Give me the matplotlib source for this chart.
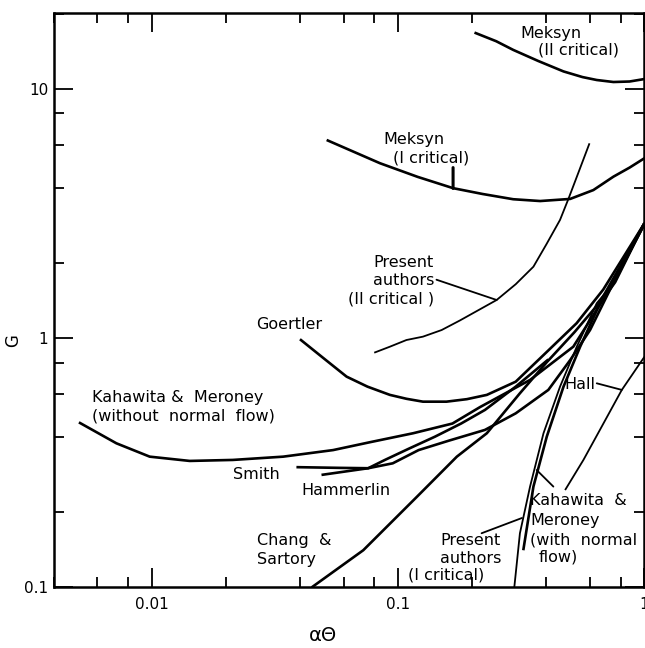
import matplotlib
matplotlib.use("Agg")
import matplotlib.pyplot as plt
from matplotlib.ticker import LogLocator, NullFormatter, FixedLocator, FixedFormatter

# curves: alpha*theta (x) against G
meksyn2_x = [0.204, 0.25, 0.293, 0.37, 0.469, 0.56, 0.640, 0.748, 0.87, 1.0]
meksyn2_g = [16.9, 15.6, 14.4, 13.0, 11.8, 11.2, 10.9, 10.7, 10.75, 11.0]

meksyn1_x = [0.0512, 0.0843, 0.12, 0.167, 0.22, 0.293, 0.377, 0.499, 0.62, 0.748, 0.87, 1.0]
meksyn1_g = [6.26, 5.05, 4.45, 4.01, 3.80, 3.62, 3.56, 3.63, 3.94, 4.46, 4.85, 5.29]

present2_x = [0.0799, 0.0925, 0.108, 0.126, 0.15, 0.178, 0.251, 0.30, 0.354, 0.40, 0.454, 0.491, 0.54, 0.598]
present2_g = [0.876, 0.926, 0.985, 1.016, 1.08, 1.18, 1.426, 1.65, 1.94, 2.39, 2.99, 3.63, 4.65, 6.07]

goertler_x = [0.0399, 0.05, 0.0617, 0.075, 0.0925, 0.108, 0.126, 0.157, 0.19, 0.229, 0.30, 0.40, 0.53,
              0.68, 1.0]
goertler_g = [0.992, 0.829, 0.702, 0.64, 0.593, 0.572, 0.557, 0.557, 0.57, 0.593, 0.67, 0.88, 1.15,
              1.57, 2.9]

km_noflow_x = [0.00505, 0.00717, 0.00979, 0.01423, 0.0213, 0.0341, 0.0544, 0.0769, 0.115, 0.166,
               0.215, 0.343, 0.514, 0.70, 1.0]
km_noflow_g = [0.46, 0.379, 0.335, 0.322, 0.325, 0.335, 0.356, 0.383, 0.416, 0.455,
               0.53, 0.681, 0.926, 1.50, 2.9]

smith_x = [0.0386, 0.058, 0.0755, 0.095, 0.121, 0.16, 0.225, 0.30, 0.407, 0.50, 0.601, 0.72, 1.0]
smith_g = [0.304, 0.302, 0.301, 0.315, 0.356, 0.388, 0.429, 0.50, 0.621, 0.82, 1.08, 1.55, 2.9]

hammerlin_x = [0.0488, 0.0755, 0.0883, 0.11, 0.141, 0.18, 0.225, 0.30, 0.407]
hammerlin_g = [0.283, 0.301, 0.325, 0.36, 0.403, 0.455, 0.516, 0.64, 0.823]

chang_x = [0.0445, 0.0721, 0.119, 0.173, 0.229, 0.312, 0.40, 0.52, 0.66, 1.0]
chang_g = [0.1, 0.141, 0.231, 0.335, 0.416, 0.602, 0.80, 1.06, 1.40, 2.9]

present1_x = [0.296, 0.312, 0.343, 0.389, 0.454, 0.531, 0.640, 0.748, 1.0]
present1_g = [0.1, 0.165, 0.254, 0.416, 0.640, 0.926, 1.384, 1.665, 2.85]

km_flow_x = [0.322, 0.354, 0.401, 0.469, 0.548, 0.660, 0.76, 1.0]
km_flow_g = [0.141, 0.254, 0.403, 0.640, 0.926, 1.384, 1.68, 2.9]

hall_x = [0.476, 0.565, 0.66, 0.809, 1.0]
hall_g = [0.246, 0.325, 0.43, 0.621, 0.844]


def main():
    fig = plt.figure(figsize=(6.45, 6.48), dpi=100)
    ax = fig.add_axes([0.0837, 0.0935, 0.9155, 0.886])
    ax.set_xscale('log')
    ax.set_yscale('log')

    thick = dict(color='black', lw=1.9, solid_capstyle='butt', solid_joinstyle='round')
    thin = dict(color='black', lw=1.3, solid_capstyle='butt', solid_joinstyle='round')

    ax.plot(meksyn2_x, meksyn2_g, **thick)
    ax.plot(meksyn1_x, meksyn1_g, **thick)
    ax.plot(present2_x, present2_g, **thin)
    ax.plot(goertler_x, goertler_g, **thick)
    ax.plot(km_noflow_x, km_noflow_g, **thick)
    ax.plot(smith_x, smith_g, **thick)
    ax.plot(hammerlin_x, hammerlin_g, **thick)
    ax.plot(chang_x, chang_g, **thick)
    ax.plot(present1_x, present1_g, **thin)
    ax.plot(km_flow_x, km_flow_g, **thick)
    ax.plot(hall_x, hall_g, **thin)

    # leader lines from labels to curves
    lead = dict(arrowstyle='-', color='black', lw=1.3, shrinkA=0, shrinkB=0)
    ax.annotate('', xy=(0.167, 4.0), xytext=(0.167, 4.85), arrowprops=dict(lead, lw=2.2))
    ax.annotate('', xy=(0.251, 1.426), xytext=(0.143, 1.72), arrowprops=lead)
    ax.annotate('', xy=(0.809, 0.621), xytext=(0.64, 0.66), arrowprops=lead)
    ax.annotate('', xy=(0.365, 0.296), xytext=(0.4266, 0.254), arrowprops=lead)
    ax.annotate('', xy=(0.318, 0.19), xytext=(0.218, 0.165), arrowprops=lead)

    t = dict(fontsize=11.5, va='center')
    ax.text(0.312, 16.8, 'Meksyn', **t)
    ax.text(0.370, 14.4, '(II critical)', **t)
    ax.text(0.0867, 6.29, 'Meksyn', **t)
    ax.text(0.0952, 5.28, '(I critical)', **t)
    ax.text(0.1397, 2.02, 'Present', ha='right', **t)
    ax.text(0.1397, 1.71, 'authors', ha='right', **t)
    ax.text(0.1397, 1.433, '(II critical )', ha='right', **t)
    ax.text(0.0266, 1.14, 'Goertler', **t)
    ax.text(0.00569, 0.579, 'Kahawita &  Meroney', **t)
    ax.text(0.00569, 0.486, '(without  normal  flow)', **t)
    ax.text(0.033, 0.284, 'Smith', ha='right', **t)
    ax.text(0.0406, 0.246, 'Hammerlin', **t)
    ax.text(0.0266, 0.154, 'Chang  &', **t)
    ax.text(0.0266, 0.129, 'Sartory', **t)
    ax.text(0.148, 0.154, 'Present', **t)
    ax.text(0.148, 0.131, 'authors', **t)
    ax.text(0.1095, 0.1125, '(I critical)', **t)
    ax.text(0.343, 0.2234, 'Kahawita  &', **t)
    ax.text(0.343, 0.1865, 'Meroney', **t)
    ax.text(0.343, 0.155, '(with  normal', **t)
    ax.text(0.370, 0.132, 'flow)', **t)
    ax.text(0.630, 0.650, 'Hall', ha='right', **t)

    ax.set_xlim(0.004, 1.0)
    ax.set_ylim(0.1, 20.2)

    ax.xaxis.set_major_locator(FixedLocator([0.01, 0.1, 1]))
    ax.xaxis.set_major_formatter(FixedFormatter(['0.01', '0.1', '1']))
    ax.yaxis.set_major_locator(FixedLocator([0.1, 1, 10]))
    ax.yaxis.set_major_formatter(FixedFormatter(['0.1', '1', '10']))
    ax.xaxis.set_minor_locator(LogLocator(base=10, subs=(2, 4, 6, 8)))
    ax.yaxis.set_minor_locator(LogLocator(base=10, subs=(2, 4, 6, 8)))
    ax.xaxis.set_minor_formatter(NullFormatter())
    ax.yaxis.set_minor_formatter(NullFormatter())

    ax.tick_params(which='both', direction='in', top=True, right=True, width=1.3, labelsize=11)
    ax.tick_params(which='major', length=14)
    ax.tick_params(which='minor', length=7)
    ax.tick_params(axis='x', pad=7)
    ax.tick_params(axis='y', pad=4)
    for s in ax.spines.values():
        s.set_linewidth(1.8)

    fig.text(0.020, 0.475, 'G', rotation=90, ha='center', va='center', fontsize=12)
    fig.text(0.5, 0.019, 'αΘ', ha='center', va='center', fontsize=14)

    fig.savefig('out.png', dpi=100)


if __name__ == "__main__":
    main()
